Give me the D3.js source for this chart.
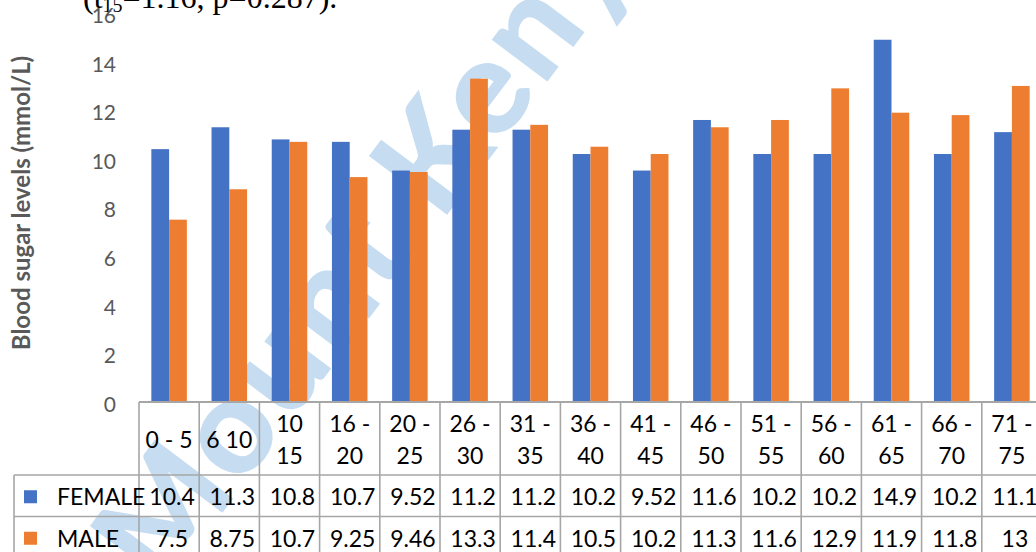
<!DOCTYPE html>
<html>
<head>
<meta charset="utf-8">
<script src="https://cdn.jsdelivr.net/npm/d3@7"></script>
<style>
  body { margin: 0; background: #fff; }
  svg { display: block; }
</style>
</head>
<body>
<svg id="chart" width="1036" height="552"></svg>
<script>
// Age groups (years) and mean blood sugar per group
const categories = ["0 - 5", "6 10", "10 15", "16 - 20", "20 - 25", "26 - 30", "31 - 35", "36 - 40",
                    "41 - 45", "46 - 50", "51 - 55", "56 - 60", "61 - 65", "66 - 70", "71 - 75"];
const female = [10.4, 11.3, 10.8, 10.7, 9.52, 11.2, 11.2, 10.2, 9.52, 11.6, 10.2, 10.2, 14.9, 10.2, 11.1];
const male   = [7.5, 8.75, 10.7, 9.25, 9.46, 13.3, 11.4, 10.5, 10.2, 11.3, 11.6, 12.9, 11.9, 11.8, 13];
const seriesNames = ["FEMALE", "MALE"];
const yTicks = [0, 2, 4, 6, 8, 10, 12, 14, 16];
const yTitle = "Blood sugar levels (mmol/L)";
const watermarkText = "Mount Kenya University";

const series = [female, male];
const colors = ["#4472C4", "#ED7D31"];

const svg = d3.select("#chart");
const FONT = "Lato, 'Open Sans', sans-serif";

// layout
const plotLeft = 139, step = 60.2;
const plotRight = plotLeft + step * categories.length;
const baseY = 402, topY = 13;
const headerBottom = 475, row1Bottom = 516.5, row2Bottom = 558;
const tableLeft = 14;
const gridColor = "#a6a6a6";

// watermark sits behind everything
svg.append("text")
  .attr("transform", "translate(162,593) rotate(-53)")
  .attr("font-family", FONT)
  .attr("font-weight", 900)
  .attr("font-size", 135)
  .attr("letter-spacing", 4)
  .attr("fill", "#c6dcf0")
  .text(watermarkText);

// caption fragment at the top
const cap = svg.append("text")
  .attr("x", 83).attr("y", 8)
  .attr("font-family", "'Liberation Serif', 'Times New Roman', serif")
  .attr("font-size", 32)
  .attr("fill", "#000");
cap.append("tspan").text("(t");
cap.append("tspan").attr("font-size", 20).attr("dy", 4).text("15");
cap.append("tspan").attr("dy", -4).text("=1.16, p=0.287).");

// scales
const x = d3.scaleBand().domain(categories).range([plotLeft, plotRight])
  .paddingInner(0.41).paddingOuter(0.205);
const xs = d3.scaleBand().domain(seriesNames).range([0, x.bandwidth()]);
const y = d3.scaleLinear().domain([0, 16]).range([baseY, topY]);

// y axis labels (no axis line, no gridlines)
const yAxis = d3.axisLeft(y).tickValues(yTicks).tickSize(0).tickPadding(0);
const yg = svg.append("g").attr("transform", "translate(116,0)").call(yAxis);
yg.select(".domain").remove();
yg.selectAll("text")
  .attr("font-family", FONT)
  .attr("font-size", 21)
  .attr("fill", "#595959")
  .attr("dy", "0.45em")
  .attr("x", 0);

// y title
svg.append("text")
  .attr("transform", `translate(30,${(48 + 358) / 2}) rotate(-90)`)
  .attr("text-anchor", "middle")
  .attr("font-family", FONT)
  .attr("font-weight", 700)
  .attr("font-size", 24)
  .attr("fill", "#595959")
  .text(yTitle);

// bars
const groups = svg.append("g").selectAll("g")
  .data(categories)
  .join("g")
  .attr("transform", d => `translate(${x(d)},0)`);
groups.selectAll("rect")
  .data((d, i) => series.map((s, k) => ({ name: seriesNames[k], value: s[i], k })))
  .join("rect")
  .attr("x", d => xs(d.name))
  .attr("width", xs.bandwidth())
  .attr("y", d => y(d.value))
  .attr("height", d => baseY - y(d.value))
  .attr("fill", d => colors[d.k]);

// data table grid
const grid = svg.append("g").attr("stroke", gridColor).attr("stroke-width", 1.6).attr("fill", "none");
grid.append("line").attr("x1", plotLeft).attr("x2", plotRight).attr("y1", baseY).attr("y2", baseY).attr("stroke-width", 2);
[headerBottom, row1Bottom, row2Bottom].forEach(yy =>
  grid.append("line").attr("x1", tableLeft).attr("x2", plotRight).attr("y1", yy).attr("y2", yy));
grid.append("line").attr("x1", tableLeft).attr("x2", tableLeft).attr("y1", headerBottom).attr("y2", row2Bottom);
d3.range(categories.length + 1).forEach(i => {
  const xx = plotLeft + i * step;
  grid.append("line").attr("x1", xx).attr("x2", xx).attr("y1", baseY).attr("y2", row2Bottom);
});

// header cells: category labels, wrapped to the column width
const headerG = svg.append("g")
  .attr("font-family", FONT).attr("font-size", 23).attr("fill", "#000").attr("text-anchor", "middle");
categories.forEach(c => {
  const cx = x(c) + x.bandwidth() / 2;
  const t = headerG.append("text").attr("x", cx);
  const words = c.split(" ");
  const lines = [];
  let line = [];
  words.forEach(w => {
    line.push(w);
    t.text(line.join(" "));
    if (t.node().getComputedTextLength() > 50 && line.length > 1) {
      line.pop();
      lines.push(line.join(" "));
      line = [w];
    }
  });
  lines.push(line.join(" "));
  t.text(null);
  const lh = 31.5;
  const midY = (baseY + headerBottom) / 2 + 1;
  const y0 = midY - (lines.length - 1) * lh / 2;
  lines.forEach((l, j) => {
    t.append("tspan").attr("x", cx).attr("y", y0 + j * lh).attr("dy", "0.36em").text(l);
  });
});

// data rows: legend key + values
const rowTops = [headerBottom, row1Bottom];
const rowsG = svg.append("g").attr("font-family", FONT).attr("font-size", 23).attr("fill", "#000");
series.forEach((s, k) => {
  const cy = (rowTops[k] + (k === 0 ? row1Bottom : row2Bottom)) / 2 + 1;
  rowsG.append("rect").attr("x", 24).attr("y", cy - 6.5).attr("width", 13).attr("height", 13).attr("fill", colors[k]);
  rowsG.append("text").attr("x", 57).attr("y", cy).attr("dy", "0.36em").text(seriesNames[k]);
  s.forEach((v, i) => {
    rowsG.append("text")
      .attr("x", x(categories[i]) + x.bandwidth() / 2 + 3)
      .attr("y", cy).attr("dy", "0.36em")
      .attr("text-anchor", "middle")
      .text(String(v));
  });
});
</script>
</body>
</html>
